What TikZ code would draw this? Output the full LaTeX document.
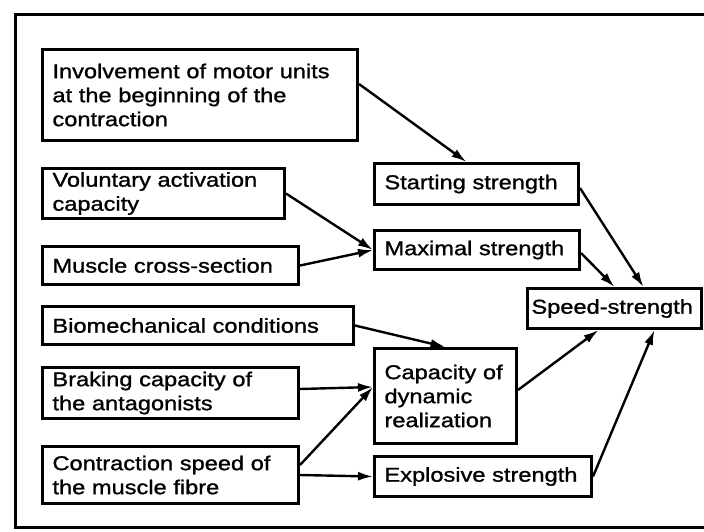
\documentclass[tikz,border=0pt]{standalone}
\usepackage{fontspec}
\setmainfont[FakeStretch=1.18,FakeBold=1.2]{Liberation Sans}
\usetikzlibrary{arrows.meta}
\begin{document}
\begin{tikzpicture}[x=1pt,y=-1pt,
  box/.style={draw, line width=3pt, anchor=north west, align=left,
    inner xsep=10pt, inner ysep=2pt,
    font=\fontsize{20}{24}\selectfont},
  arr/.style={line width=2.4pt, -{Latex[length=15pt,width=9pt]}}
]
\useasboundingbox (0,0) rectangle (704,531);
\draw[line width=3pt] (704,14) -- (15,14) -- (15,527) -- (704,527);

\node[box, minimum width=315pt, minimum height=91pt, text width=295pt] (inv) at (41,48)
  {Involvement of motor units\\at the beginning of the\\contraction};
\node[box, minimum width=242pt, minimum height=50pt, text width=222pt] (vol) at (41,167)
  {Voluntary activation\\capacity};
\node[box, minimum width=256pt, minimum height=38pt, text width=236pt] (mus) at (41,245)
  {Muscle cross-section};
\node[box, minimum width=311pt, minimum height=38pt, text width=291pt] (bio) at (41,305)
  {Biomechanical conditions};
\node[box, minimum width=256pt, minimum height=51pt, text width=236pt] (brk) at (41,366)
  {Braking capacity of\\the antagonists};
\node[box, minimum width=256pt, minimum height=57pt, text width=236pt] (con) at (41,445)
  {Contraction speed of\\the muscle fibre};
\node[box, minimum width=204pt, minimum height=41pt, text width=184pt] (sta) at (373,162)
  {Starting strength};
\node[box, minimum width=205pt, minimum height=39pt, text width=185pt] (max) at (373,229)
  {Maximal strength};
\node[box, minimum width=174pt, minimum height=40pt, text width=166pt, inner xsep=4pt] (spd) at (526,287)
  {Speed-strength};
\node[box, minimum width=142pt, minimum height=95pt, text width=122pt] (cdr) at (373,347)
  {Capacity of\\dynamic\\realization};
\node[box, minimum width=217pt, minimum height=40pt, text width=197pt] (exp) at (373,455)
  {Explosive strength};

\draw[arr] ([yshift=11pt]inv.east) -- ([xshift=-10pt]sta.north);
\draw[arr] (vol.east) -- (max.west);
\draw[arr] (mus.east) -- (max.west);
\draw[arr] (bio.east) -- (cdr.north);
\draw[arr] ([yshift=4pt]brk.east) -- ([yshift=9pt]cdr.west);
\draw[arr] ([yshift=10pt]con.east) -- ([yshift=9pt]cdr.west);
\draw[arr] (con.east) -- (exp.west);
\draw[arr] ([yshift=6pt]cdr.east) -- ([xshift=-16pt]spd.south);
\draw[arr] (exp.east) -- ([xshift=40pt]spd.south);
\draw[arr] ([yshift=-4pt]sta.east) -- ([xshift=29pt]spd.north);
\draw[arr] ([yshift=-3pt]max.east) -- (spd.north);
\end{tikzpicture}
\end{document}
